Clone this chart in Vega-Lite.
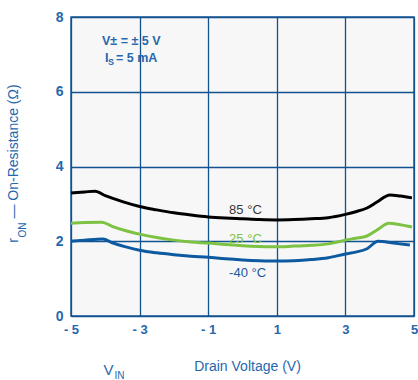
{
  "$schema": "https://vega.github.io/schema/vega-lite/v6.json",
  "width": 343,
  "height": 299,
  "autosize": "none",
  "padding": {"left": 71, "top": 17, "right": 4, "bottom": 64},
  "background": "white",
  "config": {
    "view": {"fill": "#f7f7f7", "stroke": "#1f5c99", "strokeWidth": 1.5},
    "font": "Liberation Sans",
    "axis": {
      "labelFont": "Liberation Sans",
      "titleFont": "Liberation Sans",
      "labelColor": "#2767ad",
      "titleColor": "#2767ad",
      "gridColor": "#11528f",
      "gridWidth": 1.3,
      "gridOpacity": 1,
      "domain": false,
      "ticks": false,
      "labelFontWeight": "bold",
      "titleFontWeight": "normal"
    }
  },
  "resolve": {"axis": {"x": "independent", "y": "independent"}},
  "layer": [
    {
      "data": {"values": [
        {"v": -5.0, "r": 3.29, "temp": "85"},
        {"v": -4.6, "r": 3.32, "temp": "85"},
        {"v": -4.3, "r": 3.34, "temp": "85"},
        {"v": -4.0, "r": 3.22, "temp": "85"},
        {"v": -3.5, "r": 3.06, "temp": "85"},
        {"v": -3.0, "r": 2.93, "temp": "85"},
        {"v": -2.5, "r": 2.84, "temp": "85"},
        {"v": -2.0, "r": 2.76, "temp": "85"},
        {"v": -1.5, "r": 2.70, "temp": "85"},
        {"v": -1.0, "r": 2.65, "temp": "85"},
        {"v": -0.5, "r": 2.62, "temp": "85"},
        {"v": 0.0, "r": 2.60, "temp": "85"},
        {"v": 0.5, "r": 2.58, "temp": "85"},
        {"v": 1.0, "r": 2.57, "temp": "85"},
        {"v": 1.5, "r": 2.58, "temp": "85"},
        {"v": 2.0, "r": 2.60, "temp": "85"},
        {"v": 2.5, "r": 2.63, "temp": "85"},
        {"v": 3.0, "r": 2.72, "temp": "85"},
        {"v": 3.3, "r": 2.79, "temp": "85"},
        {"v": 3.63, "r": 2.89, "temp": "85"},
        {"v": 3.92, "r": 3.05, "temp": "85"},
        {"v": 4.3, "r": 3.24, "temp": "85"},
        {"v": 4.6, "r": 3.21, "temp": "85"},
        {"v": 4.94, "r": 3.16, "temp": "85"},
        {"v": -5.0, "r": 2.48, "temp": "25"},
        {"v": -4.6, "r": 2.50, "temp": "25"},
        {"v": -4.1, "r": 2.51, "temp": "25"},
        {"v": -3.8, "r": 2.40, "temp": "25"},
        {"v": -3.4, "r": 2.28, "temp": "25"},
        {"v": -3.0, "r": 2.19, "temp": "25"},
        {"v": -2.5, "r": 2.10, "temp": "25"},
        {"v": -2.0, "r": 2.03, "temp": "25"},
        {"v": -1.5, "r": 1.98, "temp": "25"},
        {"v": -1.0, "r": 1.95, "temp": "25"},
        {"v": -0.5, "r": 1.91, "temp": "25"},
        {"v": 0.0, "r": 1.88, "temp": "25"},
        {"v": 0.5, "r": 1.86, "temp": "25"},
        {"v": 1.0, "r": 1.85, "temp": "25"},
        {"v": 1.5, "r": 1.87, "temp": "25"},
        {"v": 2.0, "r": 1.89, "temp": "25"},
        {"v": 2.5, "r": 1.93, "temp": "25"},
        {"v": 3.0, "r": 2.03, "temp": "25"},
        {"v": 3.3, "r": 2.08, "temp": "25"},
        {"v": 3.63, "r": 2.14, "temp": "25"},
        {"v": 3.92, "r": 2.30, "temp": "25"},
        {"v": 4.27, "r": 2.48, "temp": "25"},
        {"v": 4.6, "r": 2.44, "temp": "25"},
        {"v": 4.94, "r": 2.38, "temp": "25"},
        {"v": -5.0, "r": 2.00, "temp": "-40"},
        {"v": -4.6, "r": 2.03, "temp": "-40"},
        {"v": -4.07, "r": 2.06, "temp": "-40"},
        {"v": -3.8, "r": 1.96, "temp": "-40"},
        {"v": -3.4, "r": 1.85, "temp": "-40"},
        {"v": -3.0, "r": 1.76, "temp": "-40"},
        {"v": -2.5, "r": 1.69, "temp": "-40"},
        {"v": -2.0, "r": 1.64, "temp": "-40"},
        {"v": -1.5, "r": 1.60, "temp": "-40"},
        {"v": -1.0, "r": 1.57, "temp": "-40"},
        {"v": -0.5, "r": 1.53, "temp": "-40"},
        {"v": 0.0, "r": 1.50, "temp": "-40"},
        {"v": 0.5, "r": 1.48, "temp": "-40"},
        {"v": 1.0, "r": 1.47, "temp": "-40"},
        {"v": 1.5, "r": 1.48, "temp": "-40"},
        {"v": 2.0, "r": 1.51, "temp": "-40"},
        {"v": 2.5, "r": 1.56, "temp": "-40"},
        {"v": 3.0, "r": 1.66, "temp": "-40"},
        {"v": 3.3, "r": 1.71, "temp": "-40"},
        {"v": 3.63, "r": 1.80, "temp": "-40"},
        {"v": 3.95, "r": 2.00, "temp": "-40"},
        {"v": 4.4, "r": 1.95, "temp": "-40"},
        {"v": 4.88, "r": 1.90, "temp": "-40"}
      ]},
      "mark": {"type": "line", "strokeWidth": 3, "interpolate": "monotone"},
      "encoding": {
        "x": {
          "field": "v", "type": "quantitative",
          "scale": {"domain": [-5, 5], "nice": false, "zero": false},
          "axis": {
            "orient": "bottom",
            "values": [-5, -3, -1, 1, 3, 5],
            "labelExpr": "datum.value < 0 ? '- ' + (-datum.value) : '' + datum.value",
            "labelFontSize": 13,
            "labelPadding": 7,
            "labelFlush": false,
            "grid": true,
            "title": "Drain Voltage (V)",
            "titleFontSize": 14,
            "titleX": 176,
            "titleY": 54,
            "titleBaseline": "alphabetic",
            "titleAlign": "center"
          }
        },
        "y": {
          "field": "r", "type": "quantitative",
          "scale": {"domain": [0, 8], "nice": false},
          "axis": {
            "orient": "left",
            "values": [0, 2, 4, 6, 8],
            "labelFontSize": 14,
            "labelPadding": 8,
            "labelFlush": false,
            "grid": true,
            "title": "r\u00a0\u00a0\u00a0\u00a0\u00a0— On-Resistance (Ω)",
            "titleFontSize": 14,
            "titleAngle": 270,
            "titleX": -54,
            "titleY": 146,
            "titleBaseline": "alphabetic",
            "titleAlign": "center"
          }
        },
        "stroke": {
          "field": "temp", "type": "nominal",
          "scale": {"domain": ["85", "25", "-40"], "range": ["#000000", "#7dc242", "#0d5aa0"]},
          "legend": null
        },
        "detail": {"field": "temp"}
      }
    },
    {
      "data": {"values": [
        {"v": -0.39, "r": 2.73, "label": "85 °C", "temp": "85"},
        {"v": -0.39, "r": 1.95, "label": "25 °C", "temp": "25"},
        {"v": -0.39, "r": 1.04, "label": "-40 °C", "temp": "-40"}
      ]},
      "mark": {"type": "text", "align": "left", "baseline": "alphabetic", "fontSize": 13, "font": "Liberation Sans"},
      "encoding": {
        "x": {
          "field": "v", "type": "quantitative",
          "axis": {
            "orient": "bottom", "labels": false, "grid": false, "ticks": false, "domain": false,
            "title": "V", "titleFontSize": 15, "titleX": 32, "titleY": 58,
            "titleBaseline": "alphabetic", "titleAlign": "left"
          }
        },
        "y": {
          "field": "r", "type": "quantitative",
          "axis": {
            "orient": "left", "labels": false, "grid": false, "ticks": false, "domain": false,
            "title": "ON", "titleFontSize": 10, "titleAngle": 270, "titleX": -46, "titleY": 220,
            "titleBaseline": "alphabetic", "titleAlign": "left"
          }
        },
        "text": {"field": "label"},
        "fill": {
          "field": "temp", "type": "nominal",
          "scale": {"domain": ["85", "25", "-40"], "range": ["#3a3a3a", "#7dc242", "#1a5a9a"]},
          "legend": null
        }
      }
    },
    {
      "data": {"values": [
        {"v": -4.096, "r": 7.25, "t": "V± = ± 5 V"},
        {"v": -4.01, "r": 6.80, "t": "I"},
        {"v": -3.69, "r": 6.80, "t": "= 5 mA"}
      ]},
      "mark": {"type": "text", "align": "left", "baseline": "alphabetic", "fontSize": 12.5, "fontWeight": "bold", "font": "Liberation Sans", "color": "#2767ad"},
      "encoding": {
        "x": {
          "field": "v", "type": "quantitative",
          "axis": {
            "orient": "bottom", "labels": false, "grid": false, "ticks": false, "domain": false,
            "title": "IN", "titleFontSize": 10, "titleX": 43, "titleY": 62,
            "titleBaseline": "alphabetic", "titleAlign": "left"
          }
        },
        "y": {"field": "r", "type": "quantitative", "axis": null},
        "text": {"field": "t"}
      }
    },
    {
      "data": {"values": [
        {"v": -3.92, "r": 6.72, "t": "S"}
      ]},
      "mark": {"type": "text", "align": "left", "baseline": "alphabetic", "fontSize": 9, "fontWeight": "bold", "font": "Liberation Sans", "color": "#2767ad"},
      "encoding": {
        "x": {"field": "v", "type": "quantitative", "axis": null},
        "y": {"field": "r", "type": "quantitative", "axis": null},
        "text": {"field": "t"}
      }
    }
  ]
}
